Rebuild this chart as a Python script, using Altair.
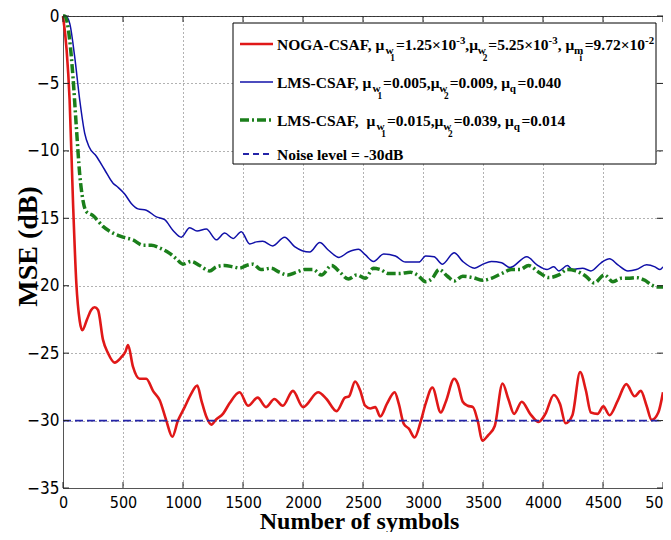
import altair as alt
import pandas as pd

# ---------------- data ----------------
red_x = [0, 30, 55, 83, 111, 139, 161, 200, 235, 264, 292, 333, 375, 430, 486, 520, 542, 583, 639, 694,
         750, 806, 861, 911, 958, 1014, 1069, 1119, 1153, 1194, 1236, 1278, 1333, 1389, 1472, 1542, 1622,
         1692, 1762, 1832, 1916, 2000, 2126, 2196, 2280, 2350, 2384, 2434, 2476, 2518, 2560, 2602, 2644,
         2700, 2764, 2798, 2840, 2882, 2930, 2980, 3022, 3078, 3148, 3190, 3260, 3289, 3331, 3373, 3416,
         3458, 3494, 3542, 3598, 3663, 3711, 3759, 3823, 3893, 3964, 4020, 4090, 4141, 4188, 4245, 4309,
         4357, 4399, 4455, 4503, 4554, 4624, 4694, 4764, 4815, 4863, 4905, 4961, 5000]
red_y = [0, -2.5, -6.2, -13.7, -19.8, -22.6, -23.3, -22.5, -21.8, -21.6, -21.8, -24.0, -25.0, -25.7, -25.3,
         -24.9, -24.4, -26.0, -26.9, -26.9, -27.8, -28.5, -30.0, -31.2, -30.0, -29.0, -28.0, -27.4, -28.5,
         -29.7, -30.3, -29.9, -29.5, -28.7, -27.9, -28.9, -28.3, -29.0, -28.4, -28.9, -27.8, -29.0, -27.9,
         -28.4, -29.3, -28.3, -28.2, -27.1, -27.75, -28.9, -29.1, -29.0, -29.7, -28.75, -27.9, -28.75,
         -30.25, -30.6, -31.25, -30.1, -28.75, -27.55, -29.4, -28.6, -26.9, -27.25, -28.6, -28.9, -29.0,
         -30.1, -31.5, -31.1, -30.4, -27.25, -28.4, -29.5, -28.6, -29.5, -30.1, -29.5, -28.1, -28.75, -30.2,
         -29.6, -26.4, -27.75, -29.4, -29.5, -28.95, -29.6, -28.5, -27.3, -28.2, -27.8, -28.9, -29.95,
         -29.4, -27.9]

blue_x = [0, 22, 56, 97, 139, 181, 217, 278, 347, 417, 458, 514, 569, 625, 694, 778, 847, 917, 986, 1056,
          1117, 1194, 1278, 1347, 1417, 1486, 1556, 1611, 1664, 1748, 1846, 1930, 2056, 2140, 2210, 2300,
          2378, 2462, 2518, 2588, 2672, 2770, 2854, 2966, 3022, 3092, 3162, 3260, 3331, 3430, 3500, 3570,
          3655, 3725, 3865, 3950, 4034, 4090, 4132, 4203, 4245, 4329, 4399, 4484, 4554, 4624, 4708, 4778,
          4863, 4933, 4975, 5000]
blue_y = [0, 0, -0.55, -3.0, -6.2, -8.7, -9.7, -10.4, -11.4, -12.4, -12.7, -13.2, -13.9, -14.3, -14.4,
          -14.9, -15.1, -15.9, -16.4, -15.7, -15.95, -15.8, -16.6, -16.1, -16.5, -16.0, -16.9, -16.75,
          -16.7, -17.05, -16.4, -17.1, -17.5, -16.8, -17.35, -17.9, -17.5, -17.3, -17.7, -18.2, -17.65,
          -17.8, -18.25, -18.25, -17.8, -17.85, -18.4, -17.55, -18.2, -18.7, -18.4, -18.2, -18.3, -18.65,
          -17.85, -18.45, -18.8, -18.6, -18.9, -18.5, -18.8, -18.7, -18.9, -18.3, -18.0, -18.45, -18.9,
          -18.8, -18.45, -18.6, -18.8, -18.6]

green_x = [0, 14, 56, 83, 111, 139, 167, 194, 250, 333, 417, 500, 583, 667, 736, 806, 889, 944, 1000, 1069,
           1139, 1222, 1278, 1347, 1417, 1472, 1528, 1583, 1650, 1734, 1804, 1874, 1944, 2014, 2084, 2154,
           2238, 2308, 2378, 2448, 2518, 2588, 2644, 2714, 2798, 2896, 2952, 3022, 3078, 3134, 3204, 3260,
           3331, 3416, 3500, 3570, 3655, 3739, 3809, 3879, 3964, 4048, 4132, 4203, 4273, 4357, 4427, 4512,
           4582, 4652, 4708, 4778, 4849, 4905, 4961, 5000]
green_y = [0, 0, -1.8, -4.5, -8.2, -11.7, -13.7, -14.5, -14.8, -15.6, -16.1, -16.4, -16.6, -17.0, -17.0,
           -17.2, -17.6, -18.0, -18.4, -18.2, -18.5, -18.9, -18.6, -18.5, -18.6, -18.7, -18.5, -18.4, -18.8,
           -18.7, -19.0, -19.2, -19.0, -18.8, -18.8, -19.2, -18.5, -19.0, -19.5, -19.2, -19.45, -18.7, -18.8,
           -19.1, -19.1, -19.0, -19.2, -19.7, -19.45, -18.8, -19.3, -19.65, -19.3, -19.4, -19.6, -19.45,
           -19.1, -18.8, -18.8, -18.5, -19.0, -19.4, -19.2, -18.8, -18.9, -19.3, -19.8, -19.2, -19.7, -19.45,
           -19.45, -19.4, -19.6, -19.95, -20.1, -20.1]

noise_x = [0, 5000]
noise_y = [-30, -30]

x_ticks = [0, 500, 1000, 1500, 2000, 2500, 3000, 3500, 4000, 4500, 5000]
y_ticks = [-35, -30, -25, -20, -15, -10, -5, 0]

NB = "\u00a0"
legend_rows = [
    [("NOGA-CSAF, μ", 0), ("w", 1), ("1", 2), ("=1.25×10", 0), ("-3", 3), (",μ", 0), ("w", 1), ("2", 2),
     ("=5.25×10", 0), ("-3", 3), (", μ", 0), ("m", 1), ("i", 2), ("=9.72×10", 0), ("-2", 3)],
    [("LMS-CSAF, μ", 0), ("w", 1), ("1", 2), ("=0.005,μ", 0), ("w", 1), ("2", 2), ("=0.009, μ", 0),
     ("q", 1), ("=0.040", 0)],
    [("LMS-CSAF," + NB + NB + "μ", 0), ("w", 1), ("1", 2), ("=0.015,μ", 0), ("w", 1), ("2", 2),
     ("=0.039, μ", 0), ("q", 1), ("=0.014", 0)],
    [("Noise level = -30dB", 0)],
]

# ---------------- styling ----------------
RED = "#e01818"
BLUE = "#1010a8"
GREEN = "#1b7f1b"
NOISE = "#2424a8"
W, H = 600, 472
SERIF = "Liberation Serif"
NARROW = "Liberation Sans Narrow, DejaVu Sans Condensed, Arial Narrow, sans-serif"

xscale = alt.Scale(domain=[0, 5000], nice=False, zero=False)
yscale = alt.Scale(domain=[-35, 0], nice=False, zero=False)

xaxis = alt.Axis(values=x_ticks, format="d", ticks=False, labelPadding=6, labelFont=NARROW,
                 labelFontSize=16, labelColor="black", labelFlush=False, labelOverlap=False,
                 grid=True, gridDash=[1, 3], gridColor="#555", gridOpacity=0.9,
                 domainColor="#555", title="Number of symbols", titleFont=SERIF,
                 titleFontWeight="bold", titleFontSize=24, titleColor="black",
                 titleX=296, titleY=40, titleAlign="center", titleBaseline="alphabetic")
yaxis = alt.Axis(values=y_ticks, format="d", ticks=False, labelPadding=4, labelFont=NARROW,
                 labelFontSize=17, labelColor="black", labelFlush=False, labelOverlap=False,
                 grid=True, gridDash=[1, 3], gridColor="#555", gridOpacity=0.9,
                 domainColor="#555", title="MSE (dB)", titleFont=SERIF, titleFontWeight="bold",
                 titleFontSize=28, titleColor="black", titleX=-35, titleY=230,
                 titleAlign="center", titleBaseline="middle", titleAngle=270)


def df(xs, ys):
    return pd.DataFrame({"x": xs, "y": ys})


red = alt.Chart(df(red_x, red_y)).mark_line(color=RED, strokeWidth=2.6, interpolate="monotone").encode(
    x=alt.X("x:Q", scale=xscale, axis=xaxis), y=alt.Y("y:Q", scale=yscale, axis=yaxis))
blue = alt.Chart(df(blue_x, blue_y)).mark_line(color=BLUE, strokeWidth=1.5, interpolate="monotone").encode(
    x=alt.X("x:Q", scale=xscale), y=alt.Y("y:Q", scale=yscale))
green = alt.Chart(df(green_x, green_y)).mark_line(color=GREEN, strokeWidth=3.5, interpolate="monotone",
                                                   strokeDash=[9, 3, 2, 3]).encode(
    x=alt.X("x:Q", scale=xscale), y=alt.Y("y:Q", scale=yscale))
noise = alt.Chart(df(noise_x, noise_y)).mark_line(color=NOISE, strokeWidth=1.8, strokeDash=[8, 4]).encode(
    x=alt.X("x:Q", scale=xscale), y=alt.Y("y:Q", scale=yscale))

xt = pd.DataFrame({"x": x_ticks})
yt = pd.DataFrame({"y": y_ticks})
tick_color = "#222"
xt_bottom = alt.Chart(xt).mark_rule(color=tick_color).encode(
    x=alt.X("x:Q", scale=xscale), y=alt.value(H), y2=alt.value(H - 6))
xt_top = alt.Chart(xt).mark_rule(color=tick_color).encode(
    x=alt.X("x:Q", scale=xscale), y=alt.value(0), y2=alt.value(6))
yt_left = alt.Chart(yt).mark_rule(color=tick_color).encode(
    y=alt.Y("y:Q", scale=yscale), x=alt.value(0), x2=alt.value(6))
yt_right = alt.Chart(yt).mark_rule(color=tick_color).encode(
    y=alt.Y("y:Q", scale=yscale), x=alt.value(W), x2=alt.value(W - 6))

# ---------------- hand-built legend (layout in plot pixels) ----------------
CW = {' ': 250, NB: 250, ',': 250, '-': 333, '.': 250, '=': 570, '×': 570, 'μ': 556, 'A': 722, 'B': 667,
      'C': 722, 'F': 611, 'G': 778, 'L': 667, 'M': 944, 'N': 722, 'O': 778, 'S': 556, 'd': 556,
      'e': 444, 'i': 278, 'l': 278, 'm': 833, 'o': 500, 'q': 556, 's': 389, 'v': 500, 'w': 722}


def tw(s, size):
    return sum(CW.get(c, 500) for c in s) / 1000.0 * size


FS = 15.5
baselines = [34, 72, 110, 144]
segs = []
for row, b in zip(legend_rows, baselines):
    cx = 214.0
    sx, sw = cx, 0.0
    for txt, lvl in row:
        if lvl == 0:
            s = FS
            segs.append((cx, b, txt, s))
            cx += tw(txt, s)
        elif lvl == 1:
            s = FS * 0.72
            w = tw(txt, s)
            segs.append((cx, b + 4, txt, s))
            sx, sw = cx, w
            cx += w + 1.5
        elif lvl == 2:
            s = FS * 0.6
            px = sx + 0.6 * sw
            segs.append((px, b + 11, txt, s))
            cx = max(cx, px + tw(txt, s) + 1)
        else:
            s = FS * 0.7
            segs.append((cx, b - 6, txt, s))
            cx += tw(txt, s)

# pixel layout -> data coordinates of the shared scales
leg_df = pd.DataFrame(segs, columns=["px", "py", "txt", "fs"])
leg_df["x"] = leg_df["px"] * 5000.0 / W
leg_df["y"] = -leg_df["py"] * 35.0 / H

one = pd.DataFrame({"a": [0]})
leg_box = alt.Chart(one).mark_rect(fill="white", stroke="black", strokeWidth=1).encode(
    x=alt.value(170), x2=alt.value(593), y=alt.value(7), y2=alt.value(148))
sample_y = [28, 66, 104, 138]
s1 = alt.Chart(one).mark_rule(color=RED, strokeWidth=2.6).encode(
    x=alt.value(177), x2=alt.value(210), y=alt.value(sample_y[0]))
s2 = alt.Chart(one).mark_rule(color=BLUE, strokeWidth=1.5).encode(
    x=alt.value(177), x2=alt.value(210), y=alt.value(sample_y[1]))
s3 = alt.Chart(one).mark_rule(color=GREEN, strokeWidth=3.5, strokeDash=[9, 3, 2, 3]).encode(
    x=alt.value(177), x2=alt.value(210), y=alt.value(sample_y[2]))
s4 = alt.Chart(one).mark_rule(color=NOISE, strokeWidth=1.8, strokeDash=[6, 4]).encode(
    x=alt.value(180), x2=alt.value(210), y=alt.value(sample_y[3]))
leg_text = alt.Chart(leg_df).mark_text(font=SERIF, fontWeight="bold", align="left", baseline="alphabetic",
                                       color="black").encode(
    x=alt.X("x:Q", scale=xscale), y=alt.Y("y:Q", scale=yscale),
    text="txt:N", size=alt.Size("fs:Q", scale=None, legend=None))

chart = alt.layer(red, blue, green, noise, xt_bottom, xt_top, yt_left, yt_right,
                  leg_box, s1, s2, s3, s4, leg_text).properties(
    width=W, height=H,
    autosize=alt.AutoSizeParams(type="none"),
    padding={"left": 55, "top": 8, "right": 0, "bottom": 44},
    background="white",
).configure_view(stroke="#333", strokeWidth=1)

chart.save("out.html", embed_options={"renderer": "svg", "actions": False})
